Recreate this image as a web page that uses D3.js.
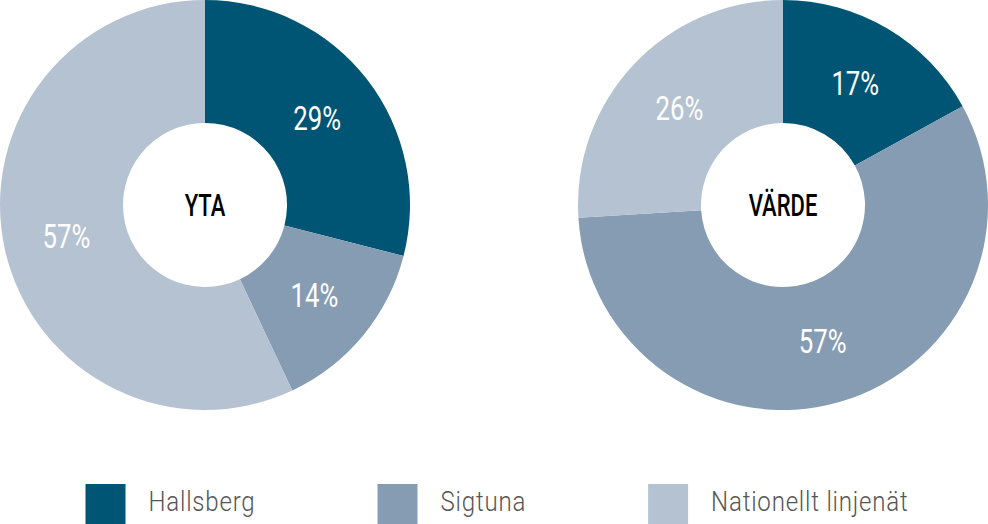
<!DOCTYPE html>
<html><head><meta charset="utf-8">
<script src="https://cdn.jsdelivr.net/npm/d3@7"></script>
<style>
html,body{margin:0;padding:0;background:#fff;}
svg{display:block;}
</style></head>
<body>
<script>
const categories = ["Hallsberg", "Sigtuna", "Nationellt linjenät"];
const charts = ["YTA", "VÄRDE"];
const ytaValues = [29, 14, 57];
const vardeValues = [17, 57, 26];
const colors = ["#005574", "#869CB2", "#B5C2D1"];

const W = 988, H = 524;
const svg = d3.select("body").append("svg").attr("width", W).attr("height", H);
const FONT = "Roboto, 'Noto Sans', sans-serif";
const SX = 0.78;       // condensing of slice labels
const SX_TITLE = 0.71; // condensing of centre titles
const SX_LEG = 0.86;   // condensing of legend text

const outerR = 205, innerR = 82, labelR = 142;
const centers = d3.scalePoint().domain(charts).range([205, 783]);
const color = d3.scaleOrdinal().domain(categories).range(colors);
const pie = d3.pie().sort(null).value(d => d.v);
const arc = d3.arc().innerRadius(innerR).outerRadius(outerR);
const labelArc = d3.arc().innerRadius(labelR).outerRadius(labelR);

[[charts[0], ytaValues], [charts[1], vardeValues]].forEach(([name, vals]) => {
  const data = categories.map((c, i) => ({c, v: vals[i]}));
  const g = svg.append("g").attr("transform", `translate(${centers(name)},205)`);
  const arcs = pie(data);
  g.selectAll("path").data(arcs).join("path")
    .attr("d", arc).attr("fill", d => color(d.data.c));
  g.selectAll("text.lbl").data(arcs).join("text").attr("class", "lbl")
    .attr("transform", d => `translate(${labelArc.centroid(d)}) scale(${SX},1)`)
    .attr("text-anchor", "middle").attr("dy", "0.36em")
    .attr("fill", "#fff").attr("font-family", FONT).attr("font-size", 33).attr("font-weight", 400)
    .text(d => d.data.v + "%");
  g.append("text").attr("text-anchor", "middle").attr("dy", "0.36em")
    .attr("transform", `scale(${SX_TITLE},1)`)
    .attr("fill", "#000").attr("font-family", FONT).attr("font-size", 31).attr("font-weight", 500)
    .text(name);
});

// legend (centered flow)
const lg = svg.append("g");
let x = 0;
const GAP = 122;
categories.forEach((c, i) => {
  const it = lg.append("g").attr("transform", `translate(${x},0)`);
  it.append("rect").attr("x", 0).attr("y", 484).attr("width", 40).attr("height", 40).attr("fill", color(c));
  const t = it.append("text").attr("transform", `translate(63,511) scale(${SX_LEG},1)`)
    .attr("letter-spacing", 0.9)
    .attr("fill", "#555").attr("font-family", FONT).attr("font-size", 28).attr("font-weight", 300).text(c);
  const w = t.node().getComputedTextLength() * SX_LEG;
  x += 63 + w + GAP;
});
const total = x - GAP;
lg.attr("transform", `translate(${497 - total / 2},0)`);
</script>
</body></html>
